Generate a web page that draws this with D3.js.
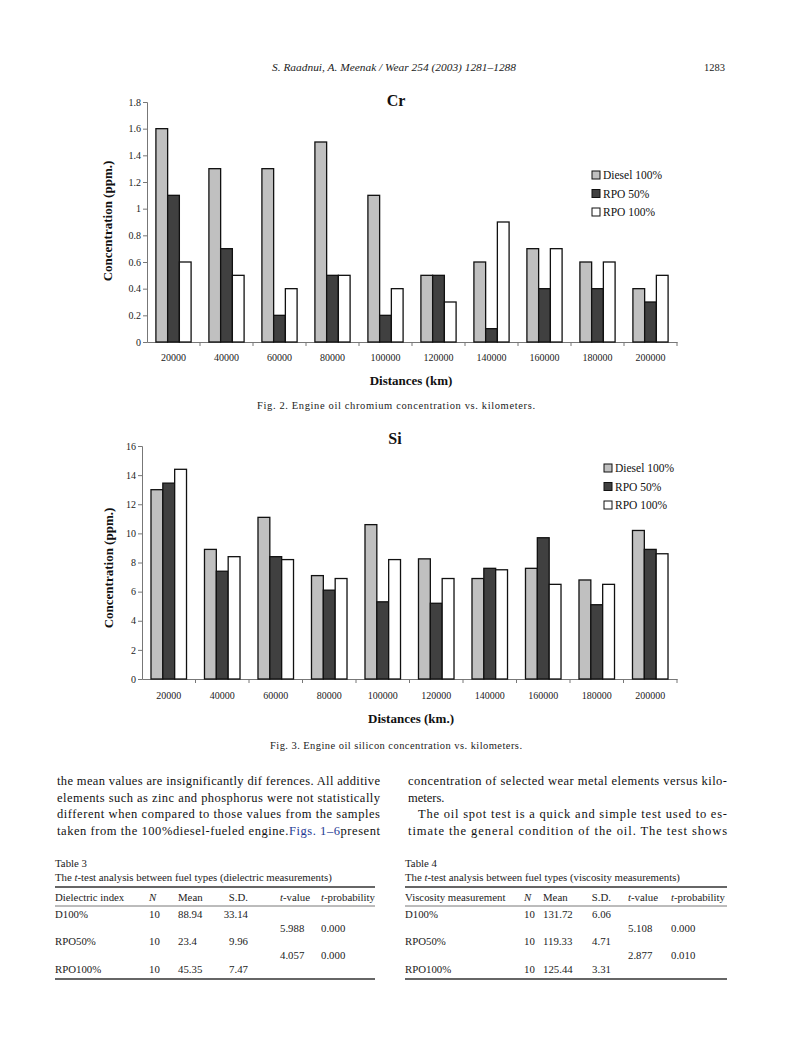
<!DOCTYPE html>
<html><head><meta charset="utf-8">
<script src="https://cdn.jsdelivr.net/npm/d3@7/dist/d3.min.js"></script>
<style>html,body{margin:0;padding:0;background:#fff;}svg{display:block;}</style>
</head><body>
<svg id="page" width="794" height="1058"></svg>
<script>
// ---------- data ----------
const categories = ["20000","40000","60000","80000","100000","120000","140000","160000","180000","200000"];
const seriesNames = ["Diesel 100%","RPO 50%","RPO 100%"];
const seriesColors = ["#c0c0c0","#404040","#ffffff"];

const crDiesel = [1.6,1.3,1.3,1.5,1.1,0.5,0.6,0.7,0.6,0.4];
const crRpo50  = [1.1,0.7,0.2,0.5,0.2,0.5,0.1,0.4,0.4,0.3];
const crRpo100 = [0.6,0.5,0.4,0.5,0.4,0.3,0.9,0.7,0.6,0.5];
const crTicks  = [0,0.2,0.4,0.6,0.8,1,1.2,1.4,1.6,1.8];

const siDiesel = [13.0,8.9,11.1,7.1,10.6,8.25,6.9,7.6,6.8,10.2];
const siRpo50  = [13.45,7.4,8.4,6.1,5.3,5.2,7.6,9.7,5.1,8.9];
const siRpo100 = [14.4,8.4,8.2,6.9,8.2,6.9,7.5,6.5,6.5,8.6];
const siTicks  = [0,2,4,6,8,10,12,14,16];

const table3Head = ["Dielectric index","N","Mean","S.D.","t-value","t-probability"];
const table3Rows = [["D100%","10","88.94","33.14"],["RPO50%","10","23.4","9.96"],["RPO100%","10","45.35","7.47"]];
const table3T = [["5.988","0.000"],["4.057","0.000"]];
const table4Head = ["Viscosity measurement","N","Mean","S.D.","t-value","t-probability"];
const table4Rows = [["D100%","10","131.72","6.06"],["RPO50%","10","119.33","4.71"],["RPO100%","10","125.44","3.31"]];
const table4T = [["5.108","0.000"],["2.877","0.010"]];

const leftLines = [
  "the mean values are insignificantly dif ferences. All additive",
  "elements such as zinc and phosphorus  were not statistically",
  "different when compared to those values from the samples"
];
const rightLines = [
  "concentration of selected wear metal elements versus kilo-",
  "meters.",
  "The oil spot test is a quick and simple test used to es-",
  "timate the general condition of the oil. The test shows"
];

// ---------- drawing ----------
const svg = d3.select("#page");
svg.append("rect").attr("width",794).attr("height",1058).attr("fill","#fff");
const SERIF = "'Liberation Serif','Times New Roman',serif";

// header
svg.append("text").attr("x",272).attr("y",71).attr("font-family",SERIF).attr("font-style","italic")
  .attr("font-size",10.5).attr("textLength",244).attr("lengthAdjust","spacingAndGlyphs").attr("fill","#222")
  .text("S. Raadnui, A. Meenak / Wear 254 (2003) 1281–1288");
svg.append("text").attr("x",725).attr("y",71).attr("text-anchor","end").attr("font-family",SERIF)
  .attr("font-size",10.5).attr("fill","#222").text("1283");

function drawChart(o){
  const g = svg.append("g");
  const x0 = d3.scaleBand().domain(categories).range([o.left,o.right]).paddingInner(0).paddingOuter(0);
  const bw = x0.bandwidth();
  const x1 = d3.scaleBand().domain(seriesNames).range([bw*0.168, bw*0.832]);
  const y = d3.scaleLinear().domain([o.ticks[0],o.ticks[o.ticks.length-1]]).range([o.bottom,o.top]);

  // y axis
  const ya = d3.axisLeft(y).tickValues(o.ticks).tickSize(4).tickFormat(d3.format("~g"));
  const yg = g.append("g").attr("transform",`translate(${o.left},0)`).call(ya);
  yg.select(".domain").attr("stroke","#777").attr("stroke-width",1);
  yg.selectAll(".tick line").attr("stroke","#777");
  yg.selectAll(".tick text").attr("font-family",SERIF).attr("font-size",10).attr("fill","#222").attr("x",-6);

  // x axis
  const xa = d3.axisBottom(x0).tickSize(0).tickSizeOuter(0);
  const xg = g.append("g").attr("transform",`translate(0,${o.bottom})`).call(xa);
  xg.select(".domain").attr("stroke","#777").attr("stroke-width",1);
  xg.selectAll(".tick text").attr("font-family",SERIF).attr("font-size",10).attr("fill","#222").attr("y",o.xLabelDy);
  // boundary ticks
  g.append("g").selectAll("line").data(categories.slice(1).concat(["__end"])).join("line")
    .attr("x1",d=> d==="__end"? o.right : x0(d)).attr("x2",d=> d==="__end"? o.right : x0(d))
    .attr("y1",o.bottom).attr("y2",o.bottom+4).attr("stroke","#777");

  // bars
  const rows = categories.map((c,i)=>({c, vals:o.series.map((s,j)=>({name:seriesNames[j], v:s[i], col:seriesColors[j]}))}));
  const grp = g.append("g").selectAll("g").data(rows).join("g").attr("transform",d=>`translate(${x0(d.c)},0)`);
  grp.selectAll("rect").data(d=>d.vals).join("rect")
    .attr("x",d=>x1(d.name)).attr("width",x1.bandwidth())
    .attr("y",d=>y(d.v)).attr("height",d=>y(0)-y(d.v))
    .attr("fill",d=>d.col).attr("stroke","#111").attr("stroke-width",1.3);

  // title
  g.append("text").attr("x",o.titleX).attr("y",o.titleY).attr("text-anchor","middle")
    .attr("font-family",SERIF).attr("font-weight","bold").attr("font-size",16).attr("fill","#111").text(o.title);
  // y title
  g.append("text").attr("transform",`translate(${o.yTitleX},${o.yTitleY}) rotate(-90)`).attr("text-anchor","middle")
    .attr("font-family",SERIF).attr("font-weight","bold").attr("font-size",13).attr("fill","#111").text("Concentration (ppm.)");
  // x title
  g.append("text").attr("x",o.xTitleX).attr("y",o.xTitleY).attr("text-anchor","middle")
    .attr("font-family",SERIF).attr("font-weight","bold").attr("font-size",13).attr("fill","#111").text(o.xTitle);
  // legend
  const lg = g.append("g").attr("transform",`translate(${o.legX},${o.legY})`);
  const li = lg.selectAll("g").data(seriesNames).join("g").attr("transform",(d,i)=>`translate(0,${i*18.5})`);
  li.append("rect").attr("x",0).attr("y",-4).attr("width",8).attr("height",8)
    .attr("fill",(d,i)=>seriesColors[i]).attr("stroke","#111").attr("stroke-width",1);
  li.append("text").attr("x",11).attr("y",4).attr("font-family",SERIF).attr("font-size",11.5).attr("fill","#111").text(d=>d);
  // caption
  svg.append("text").attr("x",o.capX).attr("y",o.capY).attr("font-family",SERIF).attr("font-size",10.5)
    .attr("textLength",o.capW).attr("lengthAdjust","spacing").attr("fill","#222").text(o.caption);
}

drawChart({left:147,right:677,top:102,bottom:342,ticks:crTicks,series:[crDiesel,crRpo50,crRpo100],
  title:"Cr",titleX:396,titleY:106,yTitleX:112,yTitleY:221,xTitle:"Distances (km)",xTitleX:411,xTitleY:385,xLabelDy:12,
  legX:592,legY:175,capX:257,capY:409,capW:278,caption:"Fig. 2. Engine oil chromium concentration vs. kilometers."});

drawChart({left:142,right:677,top:446,bottom:679,ticks:siTicks,series:[siDiesel,siRpo50,siRpo100],
  title:"Si",titleX:395,titleY:444,yTitleX:113,yTitleY:568,xTitle:"Distances (km.)",xTitleX:411,xTitleY:723,xLabelDy:13,
  legX:604,legY:468,capX:270,capY:749,capW:252,caption:"Fig. 3. Engine oil silicon concentration vs. kilometers."});

// body text
const bodyFS = 12.5;
leftLines.forEach((t,i)=>{
  svg.append("text").attr("x",57).attr("y",785+i*16.6).attr("font-family",SERIF).attr("font-size",bodyFS)
    .attr("textLength",323).attr("lengthAdjust","spacing").attr("fill","#111").text(t);
});
{
  const t = svg.append("text").attr("x",57).attr("y",785+3*16.6).attr("font-family",SERIF).attr("font-size",bodyFS)
    .attr("textLength",323).attr("lengthAdjust","spacing").attr("fill","#111");
  t.append("tspan").text("taken from the 100%diesel-fueled engine.");
  t.append("tspan").attr("fill","#1f3a93").text("Figs. 1–6");
  t.append("tspan").text("present");
}
rightLines.forEach((t,i)=>{
  const x = i===2 ? 418 : 408;
  const s = svg.append("text").attr("x",x).attr("y",785+i*16.6).attr("font-family",SERIF).attr("font-size",bodyFS)
    .attr("fill","#111").text(t);
  if(i!==1) s.attr("textLength",727-x).attr("lengthAdjust","spacing");
});

// tables
function drawTable(o){
  const g = svg.append("g");
  const fs = 10.8;
  g.append("text").attr("x",o.x).attr("y",867).attr("font-family",SERIF).attr("font-size",fs).attr("fill","#222").text(o.title);
  const st = g.append("text").attr("x",o.x).attr("y",881).attr("font-family",SERIF).attr("font-size",fs).attr("fill","#222");
  st.append("tspan").text("The ");
  st.append("tspan").attr("font-style","italic").text("t");
  st.append("tspan").text(o.sub);
  g.append("line").attr("x1",o.x).attr("x2",o.x+o.w).attr("y1",887).attr("y2",887).attr("stroke","#333").attr("stroke-width",1.6);
  g.append("line").attr("x1",o.x).attr("x2",o.x+o.w).attr("y1",906).attr("y2",906).attr("stroke","#555").attr("stroke-width",0.8);
  g.append("line").attr("x1",o.x).attr("x2",o.x+o.w).attr("y1",979).attr("y2",979).attr("stroke","#333").attr("stroke-width",1.4);
  // header
  o.head.forEach((h,i)=>{
    const t = g.append("text").attr("x",o.cols[i]).attr("y",901).attr("font-family",SERIF).attr("font-size",fs).attr("fill","#222");
    if(h==="N"){ t.attr("font-style","italic").text("N"); }
    else if(h.startsWith("t-")){ t.append("tspan").attr("font-style","italic").text("t"); t.append("tspan").text(h.slice(1)); }
    else if(h==="S.D."){ t.attr("x",o.sdRight).attr("text-anchor","end").text(h); }
    else t.text(h);
  });
  const rowY = [918,945,973];
  o.rows.forEach((r,ri)=>{
    r.forEach((c,ci)=>{
      const t = g.append("text").attr("y",rowY[ri]).attr("font-family",SERIF).attr("font-size",fs).attr("fill","#222").text(c);
      if(ci===3) t.attr("x",o.sdRight).attr("text-anchor","end"); else t.attr("x",o.cols[ci]);
    });
  });
  const tY = [932,959];
  o.tv.forEach((r,ri)=>{
    g.append("text").attr("x",o.cols[4]).attr("y",tY[ri]).attr("font-family",SERIF).attr("font-size",fs).attr("fill","#222").text(r[0]);
    g.append("text").attr("x",o.cols[5]).attr("y",tY[ri]).attr("font-family",SERIF).attr("font-size",fs).attr("fill","#222").text(r[1]);
  });
}
drawTable({x:55,w:320,title:"Table 3",sub:"-test analysis between  fuel types (dielectric measurements)",
  head:table3Head,rows:table3Rows,tv:table3T,cols:[55,149,178,228,280,321],sdRight:248});
drawTable({x:405,w:322,title:"Table 4",sub:"-test analysis between  fuel types (viscosity measurements)",
  head:table4Head,rows:table4Rows,tv:table4T,cols:[405,524,543,596,628,671],sdRight:611});
</script>
</body></html>
